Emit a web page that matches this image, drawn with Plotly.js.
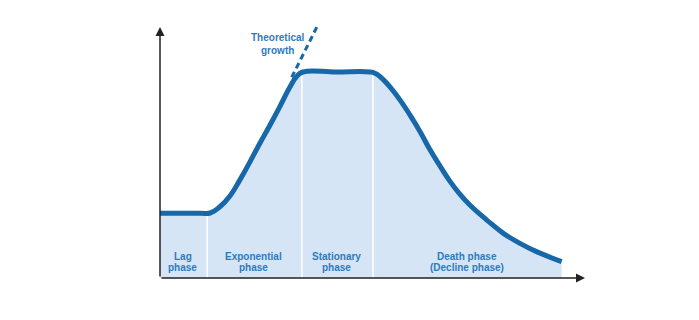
<!DOCTYPE html>
<html>
<head>
<meta charset="utf-8">
<script src="https://cdn.plot.ly/plotly-3.0.1.min.js"></script>
<style>html,body{margin:0;padding:0;background:#fff;}#chart{width:699px;height:320px;}</style>
</head>
<body>
<div id="chart"></div>
<script>
// Growth curve (time units vs log of numbers)
const timeVals = [0, 9.5, 11.8, 14.1, 16.5, 18.8, 21.2, 23.5, 25.9, 28.2, 30.6, 32.2, 33.6, 41.5, 49.4, 50.6, 51.8, 54.1, 56.5, 58.8, 61.2, 63.5, 65.9, 68.2, 70.6, 72.9, 76.9, 80.8, 84.7, 88.6, 94.5];
const logVals  = [25.8, 25.8, 25.9, 28.4, 32.8, 39.1, 46.4, 53.7, 61.0, 68.3, 76.2, 80.4, 82.1, 82.1, 82.1, 81.6, 80.2, 76.2, 70.9, 65.0, 58.3, 51.2, 44.6, 38.6, 33.3, 29.1, 23.1, 17.8, 13.8, 10.5, 6.5];

// Theoretical growth extension
const theoTime = [31.0, 36.9];
const theoLog  = [80.0, 100.0];

// Phase boundaries and curve height at each
const boundaryTime = [11.1, 33.4, 50.1];
const boundaryTop  = [25.9, 82.1, 82.1];

// Phase labels (two lines each)
const phaseLine1 = ["Lag", "Exponential", "Stationary", "Death phase"];
const phaseLine2 = ["phase", "phase", "phase", "(Decline phase)"];
const phaseLabelX = [5.4, 22.1, 41.6, 72.2];

const xMax = 100, yMax = 100;

const blue = '#1768a8';
const textBlue = '#2d7bbf';
const dark = '#222222';
const fontFam = '"Liberation Sans", Arial, Helvetica, sans-serif';

const divX = [], divY = [];
boundaryTime.forEach((b, i) => { divX.push(b, b, null); divY.push(0, boundaryTop[i], null); });

const smooth = 1.3;
const traces = [
  { x: timeVals, y: logVals, type: 'scatter', mode: 'lines', fill: 'tozeroy',
    fillcolor: '#d5e5f6', line: { width: 0, shape: 'spline', smoothing: smooth, color: 'rgba(0,0,0,0)' }, hoverinfo: 'skip' },
  { x: divX, y: divY, type: 'scatter', mode: 'lines', line: { color: '#ffffff', width: 1.5 }, hoverinfo: 'skip' },
  { x: theoTime, y: theoLog, type: 'scatter', mode: 'lines', line: { color: blue, width: 3, dash: '6px,4px' }, hoverinfo: 'skip' },
  { x: timeVals, y: logVals, type: 'scatter', mode: 'lines',
    line: { color: blue, width: 5, shape: 'spline', smoothing: smooth }, hoverinfo: 'skip' }
];

const labelFont = { family: fontFam, size: 10, color: textBlue, weight: 'bold' };
const annotations = [];
phaseLine1.forEach((t, i) => {
  annotations.push({ x: phaseLabelX[i], y: 8.4, xref: 'x', yref: 'y', text: t, showarrow: false,
    font: labelFont, align: 'center', yanchor: 'middle' });
  annotations.push({ x: phaseLabelX[i], y: 4.0, xref: 'x', yref: 'y', text: phaseLine2[i], showarrow: false,
    font: labelFont, align: 'center', yanchor: 'middle' });
});
annotations.push({ x: 27.8, y: 93.2, xref: 'x', yref: 'y', text: 'Theoretical<br>growth', showarrow: false,
  font: labelFont, align: 'center' });
// axes with arrows
annotations.push({ x: 0, y: yMax, ax: 0, ay: 0, xref: 'x', yref: 'y', axref: 'x', ayref: 'y', text: '',
  showarrow: true, arrowhead: 2, arrowsize: 1.2, arrowwidth: 1.5, arrowcolor: dark });
annotations.push({ x: xMax, y: 0, ax: 0, ay: 0, xref: 'x', yref: 'y', axref: 'x', ayref: 'y', text: '',
  showarrow: true, arrowhead: 2, arrowsize: 1.2, arrowwidth: 1.5, arrowcolor: dark });
// axis titles
annotations.push({ x: 50.2, y: -2.8, xref: 'x', yref: 'y', text: 'Time', showarrow: false, yanchor: 'top',
  font: { family: fontFam, size: 10, color: dark, weight: 'bold' } });
annotations.push({ x: -3.7, y: 51, xref: 'x', yref: 'y', text: 'Log of numbers<br>of microorganisms', showarrow: false,
  textangle: -90, font: { family: fontFam, size: 10, color: dark, weight: 'bold' }, align: 'center' });

const layout = {
  width: 699, height: 320,
  margin: { l: 160, r: 114, t: 2, b: 42 },
  paper_bgcolor: '#ffffff', plot_bgcolor: '#ffffff',
  showlegend: false,
  xaxis: { range: [0, xMax], visible: false, fixedrange: true },
  yaxis: { range: [0, 110], visible: false, fixedrange: true },
  annotations: annotations
};

Plotly.newPlot('chart', traces, layout, { displayModeBar: false, staticPlot: true });
</script>
</body>
</html>
